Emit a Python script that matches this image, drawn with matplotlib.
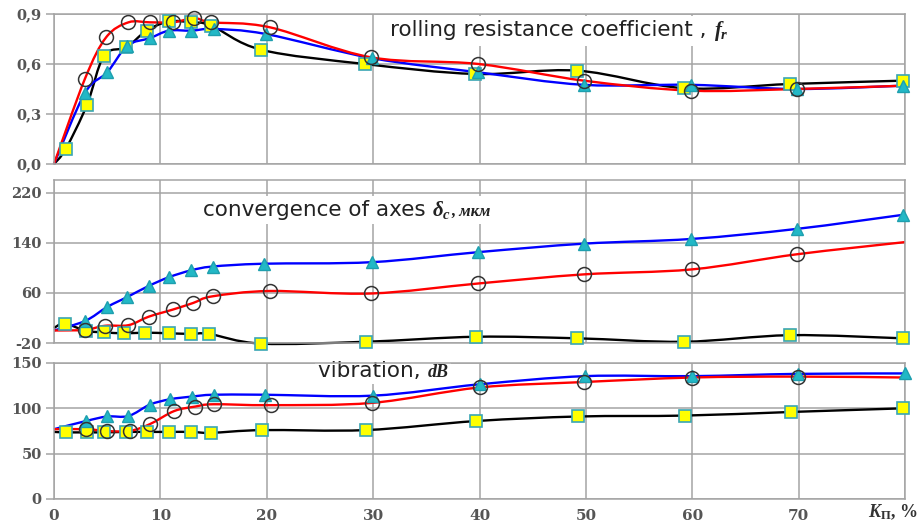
import numpy as np
import matplotlib
matplotlib.use("Agg")
import matplotlib.pyplot as plt
from matplotlib.path import Path
from matplotlib.patches import PathPatch
from matplotlib.ticker import FuncFormatter
from matplotlib.offsetbox import TextArea, HPacker, AnnotationBbox

plt.rcParams['mathtext.fontset'] = 'custom'
plt.rcParams['mathtext.rm'] = 'Liberation Serif:bold'
plt.rcParams['mathtext.it'] = 'Liberation Serif:italic:bold'
plt.rcParams['mathtext.bf'] = 'Liberation Serif:bold'

# rolling resistance coefficient f_r
fr_sq_x = [1.1, 3.1, 4.7, 6.8, 8.7, 10.8, 12.9, 14.8, 19.5, 29.2, 39.6, 49.2, 59.2, 69.2, 79.8]
fr_sq_y = [0.09, 0.355, 0.65, 0.70, 0.80, 0.855, 0.85, 0.83, 0.685, 0.60, 0.54, 0.56, 0.455, 0.48, 0.50]
fr_tri_x = [2.9, 5.0, 6.9, 9.0, 10.8, 12.9, 15.0, 19.9, 29.9, 39.9, 49.8, 59.9, 69.8, 79.8]
fr_tri_y = [0.425, 0.55, 0.71, 0.755, 0.80, 0.80, 0.81, 0.78, 0.635, 0.55, 0.475, 0.475, 0.45, 0.47]
fr_ci_x = [2.9, 4.9, 7.0, 9.0, 11.2, 13.2, 14.8, 20.3, 29.8, 39.9, 49.8, 59.9, 69.8]
fr_ci_y = [0.51, 0.76, 0.85, 0.85, 0.85, 0.875, 0.85, 0.82, 0.64, 0.60, 0.50, 0.44, 0.45]
fr_start = (0.0, 0.0, 0.0)      # black, blue, red at x = 0
fr_red_end = 0.47

# convergence of axes, мкм
ca_sq_x = [1.0, 3.0, 4.7, 6.6, 8.6, 10.8, 12.9, 14.6, 19.5, 29.3, 39.7, 49.2, 59.2, 69.2, 79.8]
ca_sq_y = [11, -0.5, -3, -4.5, -3.5, -4.5, -5.5, -5.5, -21, -18, -10, -12.5, -18, -7.5, -12.5]
ca_tri_x = [2.9, 5.0, 6.9, 8.9, 10.8, 12.9, 14.9, 19.7, 29.9, 39.9, 49.8, 59.9, 69.8, 79.8]
ca_tri_y = [15, 37.5, 53.5, 71, 85, 96, 102, 106.5, 109, 125, 138.5, 146, 162, 184.5]
ca_ci_x = [2.9, 4.8, 7.0, 8.9, 11.2, 13.1, 14.9, 20.3, 29.8, 39.9, 49.8, 60.0, 69.8]
ca_ci_y = [1, 7.5, 8.5, 22, 33.5, 44, 54.5, 63, 59, 75, 89.5, 97.5, 121.5]
ca_start = (4.0, 0.0, 0.0)
ca_red_end = 141

# vibration, dB
vb_sq_x = [1.1, 3.1, 4.7, 6.8, 8.7, 10.8, 12.9, 14.8, 19.6, 29.3, 39.7, 49.3, 59.3, 69.3, 79.8]
vb_sq_y = [73.5, 73.5, 73.5, 74, 74, 74, 74, 73, 76, 76, 86, 91, 92, 96, 100]
vb_tri_x = [3.0, 5.0, 7.0, 9.0, 10.9, 13.0, 15.0, 19.8, 30.0, 40.0, 49.9, 60.0, 69.9, 80.0]
vb_tri_y = [86, 91, 91.5, 104, 110, 113, 115, 115, 114, 126.5, 135.5, 135.5, 138, 138.5]
vb_ci_x = [3.0, 5.0, 7.1, 9.0, 11.3, 13.3, 15.0, 20.4, 29.9, 40.0, 49.8, 60.0, 69.9]
vb_ci_y = [77, 75, 75, 82.5, 97, 102, 104.5, 103.5, 106, 123, 129, 134, 135]
vb_start = (74, 77, 77)
vb_red_end = 134

x_ticks = [0, 10, 20, 30, 40, 50, 60, 70, 80]
x_tick_labels = ['0', '10', '20', '30', '40', '50', '60', '70', '']

GRID = '#a4a4a4'
TICKC = '#555555'
tick_font = dict(family='DejaVu Serif', weight='bold', size=10.5)


def smooth_path(xs, ys):
    p = np.column_stack([xs, ys]).astype(float)
    n = len(p)
    verts = [p[0]]
    codes = [Path.MOVETO]
    for i in range(n - 1):
        p0 = p[i - 1] if i > 0 else p[i]
        p3 = p[i + 2] if i + 2 < n else p[i + 1]
        verts += [p[i] + (p[i + 1] - p0) / 6, p[i + 1] - (p3 - p[i]) / 6, p[i + 1]]
        codes += [Path.CURVE4] * 3
    return Path(verts, codes)


def draw_panel(ax, sq, tri, ci, start, red_end):
    (sx, sy), (tx, ty), (cx, cy) = sq, tri, ci
    lines = [([0] + sx, [start[0]] + sy, 'black'),
             ([0] + tx, [start[1]] + ty, '#0000ff'),
             ([0] + cx + [80], [start[2]] + cy + [red_end], '#ff0000')]
    for xs, ys, col in lines:
        ax.add_patch(PathPatch(smooth_path(xs, ys), fc='none', ec=col, lw=1.7,
                               zorder=2, clip_on=False))
    ax.plot(sx, sy, ls='none', marker='s', ms=8.5, mfc='#ffff00', mec='#3aa6b4',
            mew=1.2, zorder=3, clip_on=False)
    ax.plot(tx, ty, ls='none', marker='^', ms=9, mfc='#22b8c6', mec='#1e9fae',
            mew=1.0, zorder=4, clip_on=False)
    ax.plot(cx, cy, ls='none', marker='o', ms=10, mfc='none', mec='#333333',
            mew=1.1, zorder=5, clip_on=False)


def style(ax, yticks, fmt):
    ax.set_xlim(0, 80)
    ax.set_xticks(x_ticks)
    ax.set_yticks(yticks)
    ax.grid(True, color=GRID, lw=1.1)
    ax.set_axisbelow(True)
    for s in ax.spines.values():
        s.set_color(GRID)
        s.set_linewidth(1.1)
    ax.tick_params(axis='y', length=6, width=1.1, color=GRID, labelcolor=TICKC, pad=3)
    ax.tick_params(axis='x', length=0, labelcolor=TICKC)
    ax.yaxis.set_major_formatter(FuncFormatter(fmt))
    for lab in ax.get_yticklabels():
        lab.set(**tick_font)


def label(ax, parts, x, y):
    boxes = [TextArea(t, textprops=p) for t, p in parts]
    pack = HPacker(children=boxes, align='baseline', pad=0, sep=0)
    ab = AnnotationBbox(pack, (x, y), xycoords='axes fraction', box_alignment=(0, 0.5),
                        frameon=True, pad=0.2, bboxprops=dict(fc='white', ec='none'),
                        zorder=1.5)
    ax.add_artist(ab)


sans = dict(family='DejaVu Sans', size=15.5, color='#222222')
serif_bi = dict(family='Liberation Serif', style='italic', weight='bold', size=15,
                color='#222222')

fig = plt.figure(figsize=(9.2, 5.3), dpi=100)
ax1 = fig.add_axes([0.0587, 0.6906, 0.925, 0.283])
ax2 = fig.add_axes([0.0587, 0.3528, 0.925, 0.3075])
ax3 = fig.add_axes([0.0587, 0.0585, 0.925, 0.2566])

draw_panel(ax1, (fr_sq_x, fr_sq_y), (fr_tri_x, fr_tri_y), (fr_ci_x, fr_ci_y), fr_start, fr_red_end)
ax1.set_ylim(0, 0.9)
style(ax1, [0.0, 0.3, 0.6, 0.9], lambda v, p: f'{v:.1f}'.replace('.', ','))
ax1.set_xticklabels([])
label(ax1, [('rolling resistance coefficient , ', sans), (r'$f_r$', serif_bi)], 0.395, 0.885)

draw_panel(ax2, (ca_sq_x, ca_sq_y), (ca_tri_x, ca_tri_y), (ca_ci_x, ca_ci_y), ca_start, ca_red_end)
ax2.set_ylim(-20, 240)
style(ax2, [-20, 60, 140, 220], lambda v, p: f'{v:.0f}')
ax2.set_xticklabels([])
label(ax2, [('convergence of axes ', sans), (r'$\delta_c$', serif_bi),
            (', мкм', dict(serif_bi, size=12))], 0.175, 0.815)

draw_panel(ax3, (vb_sq_x, vb_sq_y), (vb_tri_x, vb_tri_y), (vb_ci_x, vb_ci_y), vb_start, vb_red_end)
ax3.set_ylim(0, 150)
style(ax3, [0, 50, 100, 150], lambda v, p: f'{v:.0f}')
ax3.set_xticklabels(x_tick_labels)
for lab in ax3.get_xticklabels():
    lab.set(**dict(tick_font, size=11))
ax3.tick_params(axis='x', pad=7)
label(ax3, [('vibration, ', sans), ('dB', dict(serif_bi, size=13))], 0.31, 0.94)
ax3.text(1.015, -0.135, r'$K_{\mathrm{П}}$, %', transform=ax3.transAxes, ha='right',
         va='baseline', family='Liberation Serif', weight='bold', size=13, color='#333333')

fig.savefig('out.png', dpi=100)
